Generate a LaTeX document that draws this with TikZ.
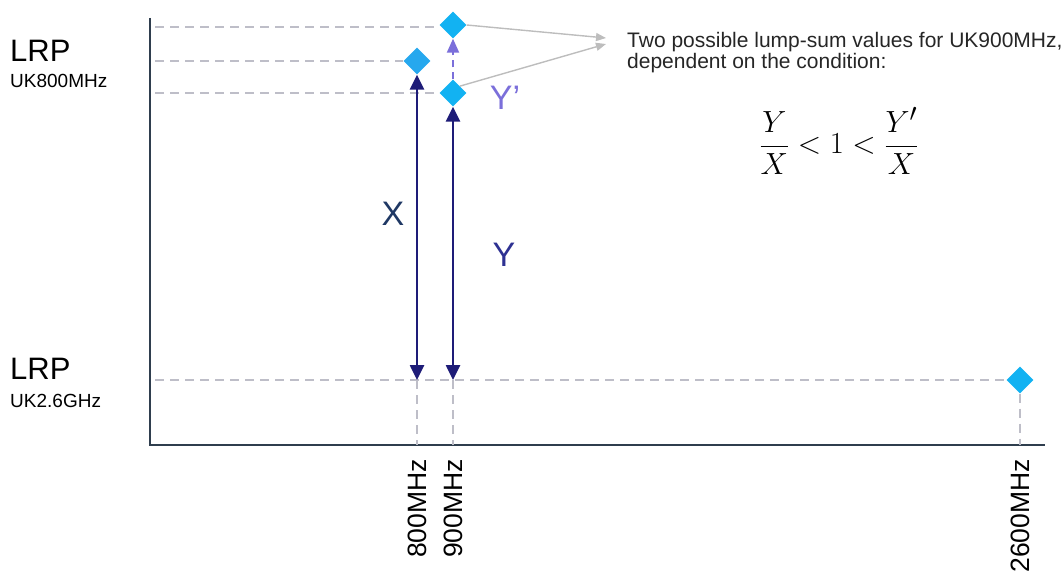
\documentclass[tikz,border=0pt]{standalone}
\usepackage{graphicx}
\usepackage{fontspec}
\setmainfont{Liberation Sans}
\usetikzlibrary{shapes.geometric,arrows.meta}
\definecolor{dgrey}{HTML}{BEBEC8}
\definecolor{lgrey}{HTML}{BDBDBD}
\definecolor{dmd}{HTML}{12B2F2}
\definecolor{dmdb}{HTML}{26A8EE}
\definecolor{navy}{HTML}{1E1C78}
\definecolor{xlab}{HTML}{1F3864}
\definecolor{ylab}{HTML}{2E3192}
\definecolor{ypr}{HTML}{7B6FDA}
\definecolor{axisc}{HTML}{2F3E4E}
\tikzset{
  guide/.style={draw=dgrey, line width=2pt, dash pattern=on 9pt off 6pt},
  pt/.style={shape=diamond, fill=dmd, draw=none, inner sep=0pt, minimum width=27pt, minimum height=27pt},
  rng/.style={draw=navy, line width=2.6pt, {Triangle[length=15pt,width=14pt]}-{Triangle[length=15pt,width=14pt]}},
  ptr/.style={draw=lgrey, line width=1.4pt, -{Triangle[length=10pt,width=8pt]}},
  big/.style={font=\fontsize{31}{31}\selectfont},
  lab/.style={font=\fontsize{34}{34}\selectfont},
  small/.style={font=\fontsize{19}{19}\selectfont},
  note/.style={font=\fontsize{21}{21}\selectfont, text=black!85, anchor=base west, inner sep=0pt},
  tick/.style={font=\fontsize{26.5}{26.5}\selectfont, rotate=90, anchor=east, inner sep=0pt},
}
\begin{document}
\begin{tikzpicture}[x=1pt,y=-1pt]
\useasboundingbox (0,0) rectangle (1062,577);
% axes
\coordinate (ytop) at (150,18);
\coordinate (orig) at (150,445);
\coordinate (xend) at (1045,445);
\draw[axisc, line width=1.6pt] (ytop) -- (orig) -- (xend);
% points
\node[pt] (d900u) at (453,25) {};
\node[pt, fill=dmdb] (d800) at (417,61) {};
\node[pt] (d900l) at (453,93) {};
\node[pt] (d2600) at (1020,380) {};
% guide start coordinates
\coordinate (g1) at (155,27);
\coordinate (g2) at (155,61);
\coordinate (g3) at (155,93);
\coordinate (g4) at (155,380);
\coordinate (b800) at (417,380);
\coordinate (b900) at (453,380);
\coordinate (t800) at (417,445);
\coordinate (t900) at (453,445);
\coordinate (t2600) at (1020,445);
\draw[guide] (g1) -- (d900u.west |- g1);
\draw[guide] (g2) -- (d800.west);
\draw[guide] (g3) -- (d900l.west);
\draw[guide] (g4) -- (d2600.west);
\draw[guide] (b800) -- (t800);
\draw[guide] (b900) -- (t900);
\draw[guide] (d2600.south) -- (t2600);
% range arrows
\draw[rng] (b800) -- (d800.south);
\draw[rng] (b900) -- (d900l.south);
\draw[draw=ypr, line width=2pt, dash pattern=on 7pt off 5pt, -{Triangle[length=14pt,width=12pt]}] (d900l.north) -- (d900u.south);
% labels
\node[lab, text=xlab] (lx) at (393,214) {X};
\node[lab, text=ylab] (ly) at (504,255) {Y};
\node[lab, text=ypr] (lyp) at (505,98) {Y\symbol{39}};
% pointer arrows
\coordinate (tip1) at (606,38);
\coordinate (tip2) at (606,44);
\draw[ptr] (d900u.east) -- (tip1);
\draw[ptr] (d900l.north east) -- (tip2);
\node[note] (note1) at (627,48) {Two possible lump-sum values for UK900MHz,};
\node[note] (note2) at (627,69) {dependent on the condition:};
\node[font=\fontsize{24.88}{25}\selectfont] (cond) at (839,141) {\scalebox{1.23}{$\displaystyle \frac{Y}{X} < 1 < \frac{Y'}{X}$}};
% left labels
\node[big, anchor=west, inner sep=0pt] (lrp1) at (10,51) {LRP};
\node[small, anchor=west, inner sep=0pt] (uk800) at (10,81) {UK800MHz};
\node[big, anchor=west, inner sep=0pt] (lrp2) at (10,369) {LRP};
\node[small, anchor=west, inner sep=0pt] (uk26) at (10,401) {UK2.6GHz};
% tick labels
\node[tick] (x800) at (417,459) {800MHz};
\node[tick] (x900) at (453,459) {900MHz};
\node[tick] (x2600) at (1020,459) {2600MHz};
\end{tikzpicture}
\end{document}
